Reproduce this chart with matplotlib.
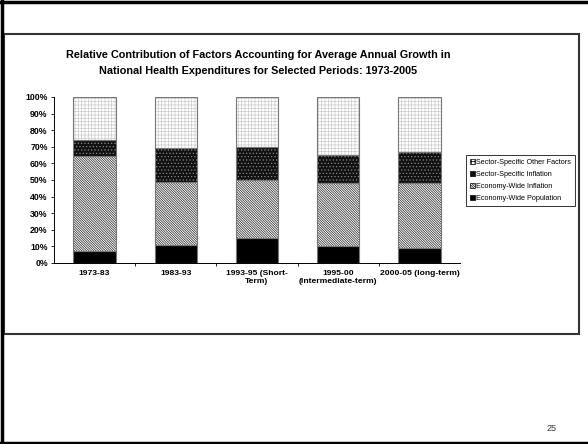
import matplotlib
matplotlib.use("Agg")
import matplotlib.pyplot as plt
import numpy as np
from matplotlib.patches import Patch, Rectangle
from matplotlib.lines import Line2D

plt.rcParams['font.family'] = ['Liberation Sans', 'DejaVu Sans']
plt.rcParams['hatch.linewidth'] = 0.5

# periods and shares (%) of each factor
periods = ['1973-83', '1983-93', '1993-95 (Short-\nTerm)',
           '1995-00\n(intermediate-term)', '2000-05 (long-term)']
population = [7.5, 11, 15, 10, 9]
econ_inflation = [57, 37.5, 35, 38, 39]
sector_inflation = [9.5, 20.5, 20, 17, 19]
sector_other = [26, 31, 30, 35, 33]

series_names = ['Economy-Wide Population', 'Economy-Wide Inflation',
                'Sector-Specific Inflation', 'Sector-Specific Other Factors']
# face colour, hatch, hatch colour
styles = [('black', None, 'black'),
          ('white', '\\' * 14, '#222222'),
          ('#111111', '.....', '#8a8a8a'),
          ('white', '+++++', '#cccccc')]

W, H = 588, 444
fig = plt.figure(figsize=(W / 100, H / 100), dpi=100)

# slide frame
fig.add_artist(Line2D([2 / W, 2 / W], [0, 1], color='black', lw=2.5))
fig.add_artist(Line2D([0, 1], [1 - 2.5 / H, 1 - 2.5 / H], color='black', lw=2.5))
fig.add_artist(Line2D([0, 1], [1 / H, 1 / H], color='black', lw=2.5))
fig.add_artist(Rectangle((4 / W, 1 - 334 / H), 575 / W, 300 / H, fill=False,
                         edgecolor='#333333', lw=1.5, transform=fig.transFigure))

ax = fig.add_axes([54 / W, 1 - 263 / H, 406 / W, 166 / H])
x = np.arange(len(periods))
width = 0.52
bottom = np.zeros(len(periods))
data = [population, econ_inflation, sector_inflation, sector_other]
for vals, (fc, hatch, hc) in zip(data, styles):
    vals = np.array(vals) / 100
    ax.bar(x, vals, width, bottom=bottom, color=fc, hatch=hatch,
           edgecolor=hc, linewidth=0)
    ax.bar(x, vals, width, bottom=bottom, fill=False,
           edgecolor='#777777', linewidth=0.8)
    bottom += vals

ax.set_xlim(-0.5, len(periods) - 0.5)
ax.set_ylim(0, 1)
ax.set_yticks(np.arange(0, 1.01, 0.1))
ax.set_yticklabels([f'{int(v)}%' for v in np.arange(0, 101, 10)],
                   fontsize=6.3, fontweight='bold')
ax.set_xticks(x)
ax.set_xticklabels(periods, fontsize=6.1, fontweight='bold')
ax.tick_params(axis='x', length=0, pad=5)
ax.set_xticks(np.arange(0.5, len(periods) - 0.5), minor=True)
ax.tick_params(axis='x', which='minor', length=2, width=0.6)
ax.tick_params(axis='y', length=2.5, width=0.6, pad=2)
for s in ['top', 'right']:
    ax.spines[s].set_visible(False)
for s in ['left', 'bottom']:
    ax.spines[s].set_linewidth(0.7)

fig.text(258 / W, 1 - 55 / H,
         'Relative Contribution of Factors Accounting for Average Annual Growth in',
         ha='center', va='center', fontsize=7.8, fontweight='bold')
fig.text(258 / W, 1 - 71 / H,
         'National Health Expenditures for Selected Periods: 1973-2005',
         ha='center', va='center', fontsize=7.8, fontweight='bold')

handles = [Patch(facecolor=fc, hatch=h, edgecolor='black', linewidth=0.5)
           for fc, h, hc in styles]
leg = fig.legend(handles[::-1], series_names[::-1], loc='upper left',
                 bbox_to_anchor=(466 / W, 1 - 155 / H), fontsize=5.2,
                 handlelength=0.7, handleheight=0.7, handletextpad=0.2,
                 labelspacing=0.7, borderpad=0.5, borderaxespad=0,
                 fancybox=False, frameon=True)
leg.get_frame().set_edgecolor('black')
leg.get_frame().set_linewidth(0.7)

fig.text(552 / W, 1 - 428 / H, '25', ha='center', va='center',
         fontsize=6.5, color='#333333')

fig.savefig('out.png', dpi=100)
